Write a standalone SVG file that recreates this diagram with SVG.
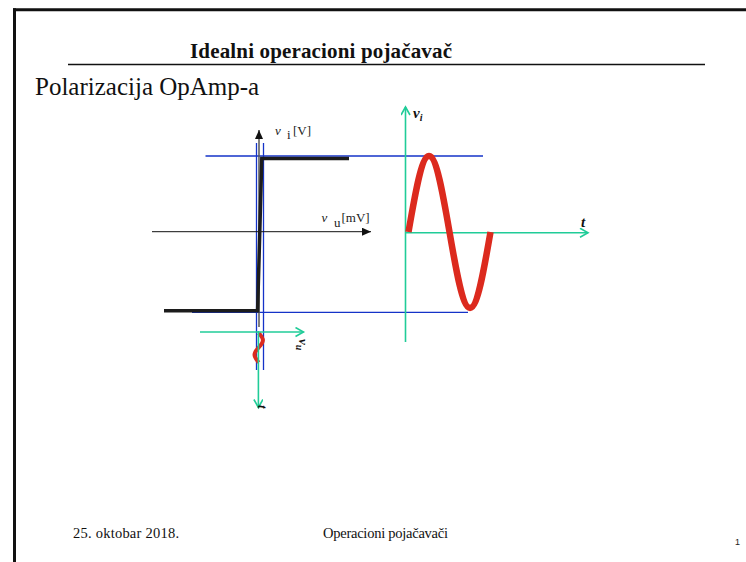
<svg xmlns="http://www.w3.org/2000/svg" width="746" height="562" viewBox="0 0 746 562">
<defs>
<marker id="blackTri" markerWidth="10" markerHeight="10" refX="9" refY="4" orient="auto" markerUnits="userSpaceOnUse">
<path d="M0,0 L9,4 L0,8 Z" fill="#111"/>
</marker>
<marker id="greenChev" markerWidth="12" markerHeight="12" refX="9" refY="5" orient="auto" markerUnits="userSpaceOnUse">
<path d="M1,0.5 L9,5 L1,9.5" fill="none" stroke="#20cc98" stroke-width="1.6"/>
</marker>
</defs>
<style>
.serif{font-family:"Liberation Serif","Times New Roman",serif;}
.blue{stroke:#1433c8;stroke-width:1.3;fill:none;}
.green{stroke:#20cc98;stroke-width:1.6;fill:none;}
.thick{stroke:#1c1c1c;stroke-width:3.5;fill:none;}
.red{stroke:#dc2a1e;fill:none;stroke-linecap:butt;}
.lbl{font-family:"Liberation Serif","Times New Roman",serif;font-size:13px;fill:#222;}
.bi{font-family:"Liberation Serif","Times New Roman",serif;font-weight:bold;font-style:italic;fill:#111;}
</style>
<rect width="746" height="562" fill="#fff"/>
<g id="frame">
<line x1="13" y1="9.8" x2="746" y2="9.8" stroke="#111" stroke-width="3"/>
<line x1="14.5" y1="8.3" x2="14.5" y2="562" stroke="#111" stroke-width="3"/>
</g>
<g id="header">
<text class="serif" x="190" y="58.3" font-size="21" font-weight="bold" textLength="262" fill="#111">Idealni operacioni pojačavač</text>
<line x1="68" y1="64.5" x2="705" y2="64.5" stroke="#111" stroke-width="1.3"/>
<text class="serif" x="35" y="95" font-size="25" fill="#111">Polarizacija OpAmp-a</text>
</g>
<g id="connectors">
<line class="blue" x1="205.5" y1="156" x2="483" y2="156"/>
<line class="blue" x1="192" y1="312.3" x2="468" y2="312.3"/>
<line class="blue" x1="256.5" y1="143" x2="256.5" y2="370"/>
<line class="blue" x1="263.5" y1="143" x2="263.5" y2="370"/>
</g>
<g id="transfer-plot">
<line x1="259" y1="327" x2="259" y2="130" stroke="#555" stroke-width="1.5" marker-end="url(#blackTri)"/>
<line x1="152" y1="231.7" x2="371" y2="231.7" stroke="#111" stroke-width="1" marker-end="url(#blackTri)"/>
<polyline class="thick" points="164,310.8 257.6,310.8 261.8,158.4 349,158.4"/>
<text class="lbl" x="275" y="135" font-style="italic">v</text>
<text class="lbl" x="287" y="138.5" font-size="11">i</text>
<text class="lbl" x="293" y="135">[V]</text>
<text class="lbl" x="321.5" y="221.7" font-style="italic">v</text>
<text class="lbl" x="334" y="226.7" font-size="11">u</text>
<text class="lbl" x="341.5" y="221.7">[mV]</text>
</g>
<g id="input-signal">
<path class="red" stroke-width="4" d="M258.7,333 C260.85,335.36 262.9,337.63 262.9,340.25 C262.9,342.87 260.85,345.14 258.7,347.5 C256.55,349.86 254.5,352.13 254.5,354.75 C254.5,357.37 256.55,359.64 258.7,362.5"/>
<line class="green" x1="200" y1="332" x2="303.5" y2="332" marker-end="url(#greenChev)"/>
<line class="green" x1="258.4" y1="331" x2="258.4" y2="407.5" marker-end="url(#greenChev)"/>
<text class="bi" font-size="13" transform="translate(299,339) rotate(90)">v<tspan font-size="10" dy="3">u</tspan></text>
<text class="bi" font-size="13" transform="translate(258,405) rotate(90)">t</text>
</g>
<g id="output-signal">
<line class="green" x1="405.5" y1="342" x2="405.5" y2="107" marker-end="url(#greenChev)"/>
<line class="green" x1="405.5" y1="232.7" x2="588" y2="232.7" marker-end="url(#greenChev)"/>
<path class="red" stroke-width="6.5" d="M408.5,232 C415.19,193.1 421.58,156 429,156 C436.42,156 442.81,193.1 449.5,232 C456.19,270.9 462.58,308 470,308 C477.42,308 483.81,270.9 490.5,232"/>
<text class="bi" x="413" y="118" font-size="15">v<tspan font-size="10" dy="3">i</tspan></text>
<text class="bi" x="581" y="227" font-size="15">t</text>
</g>
<g id="footer">
<text class="serif" x="73" y="537.5" font-size="14.5" textLength="106" fill="#111">25. oktobar 2018.</text>
<text class="serif" x="323" y="537.5" font-size="14.5" textLength="125" fill="#111">Operacioni  pojačavači</text>
<text x="735" y="545" font-family="Liberation Sans, Arial, sans-serif" font-size="9" fill="#222">1</text>
</g>
</svg>
